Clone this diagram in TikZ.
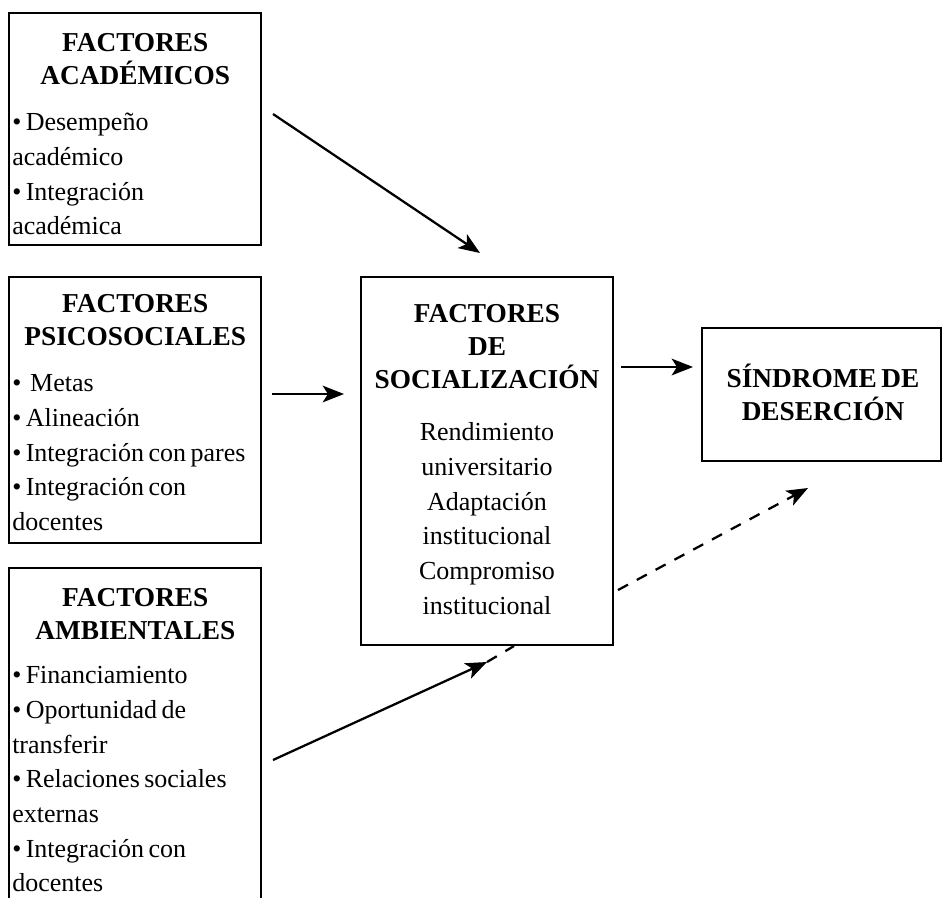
\documentclass[tikz,border=0pt]{standalone}
\usepackage{fontspec}
\setmainfont{Liberation Serif}
\usetikzlibrary{arrows.meta,fit}

% heading and body fonts
\newcommand\hdfont{\fontsize{20.5}{24.75}\selectfont\bfseries}
\newcommand\bdfont{\fontsize{19.5}{26}\selectfont}

\begin{document}
\begin{tikzpicture}[x=0.75pt,y=-0.75pt,
  box/.style={draw,line width=1.7pt,inner sep=0pt},
  frame/.style={inner sep=0pt},
  txt/.style={inner sep=0pt,text width=#1},
  tip/.style={-{Stealth[length=16pt,width=12.5pt,inset=4pt]}},
  link/.style={line width=1.7pt,tip},
  dashlink/.style={line width=1.7pt,dash pattern=on 8.5pt off 7.5pt},
  dasharrow/.style={dashlink,tip}]
\useasboundingbox (0,0) rectangle (944,897);

% left column: academic factors
\node[box,fit={(9,13) (261,245)}] (acad) {};
\node[txt=184.5pt,anchor=base west] (acadtxt) at (12,51)
 {{\hdfont\centering FACTORES\\ACADÉMICOS\par}\vspace{9pt}
  {\bdfont\raggedright • Desempeño\\académico\\• Integración\\académica\par}};

% left column: psychosocial factors
\node[box,fit={(9,277) (261,543)}] (psico) {};
\node[txt=184.5pt,anchor=base west] (psicotxt) at (12,312)
 {{\hdfont\centering FACTORES\\PSICOSOCIALES\par}\vspace{9pt}
  {\bdfont\raggedright •\ \ Metas\\• Alineación\\• Integración con pares\\• Integración con\\docentes\par}};

% left column: environmental factors (open at the bottom)
\node[frame,fit={(9,568) (261,910)}] (amb) {};
\draw[line width=1.7pt] (amb.south west) |- (amb.north east) -- (amb.south east);
\node[txt=184.5pt,anchor=base west] (ambtxt) at (12,606)
 {{\hdfont\centering FACTORES\\AMBIENTALES\par}\vspace{7.5pt}
  {\bdfont\raggedright • Financiamiento\\• Oportunidad de\\transferir\\• Relaciones sociales\\externas\\• Integración con\\docentes\par}};

% centre: socialization factors
\node[box,fit={(361,277) (613,645)}] (social) {};
\node[txt=184.5pt,anchor=base] (socialtxt) at (487,322)
 {{\hdfont\centering FACTORES\\DE\\SOCIALIZACIÓN\par}\vspace{13.5pt}
  {\bdfont\centering Rendimiento\\universitario\\Adaptación\\institucional\\Compromiso\\institucional\par}};

% right: dropout syndrome
\node[box,fit={(702,328) (941,461)}] (sindrome) {};
\node[txt=170pt,anchor=base] (sindtxt) at (823,387)
 {\hdfont\centering SÍNDROME DE\\DESERCIÓN\par};

% connector end points
\coordinate (a1s) at (273,114);
\coordinate (a1e) at (480,253);
\coordinate (a2s) at (272,394);
\coordinate (a2e) at (344,394);
\coordinate (a3s) at (621,367);
\coordinate (a3e) at (693,367);
\coordinate (a4s) at (273,760);
\coordinate (a4e) at (487,662);
\coordinate (a4d) at (514,646);
\coordinate (a5s) at (618,590);
\coordinate (a5e) at (808,488);

% connectors
\draw[link] (a1s) -- (a1e);
\draw[link] (a2s) -- (a2e);
\draw[link] (a3s) -- (a3e);
\draw[link] (a4s) -- (a4e);
\draw[dashlink] (a4e) -- (a4d);
\draw[dasharrow] (a5s) -- (a5e);
\end{tikzpicture}
\end{document}
